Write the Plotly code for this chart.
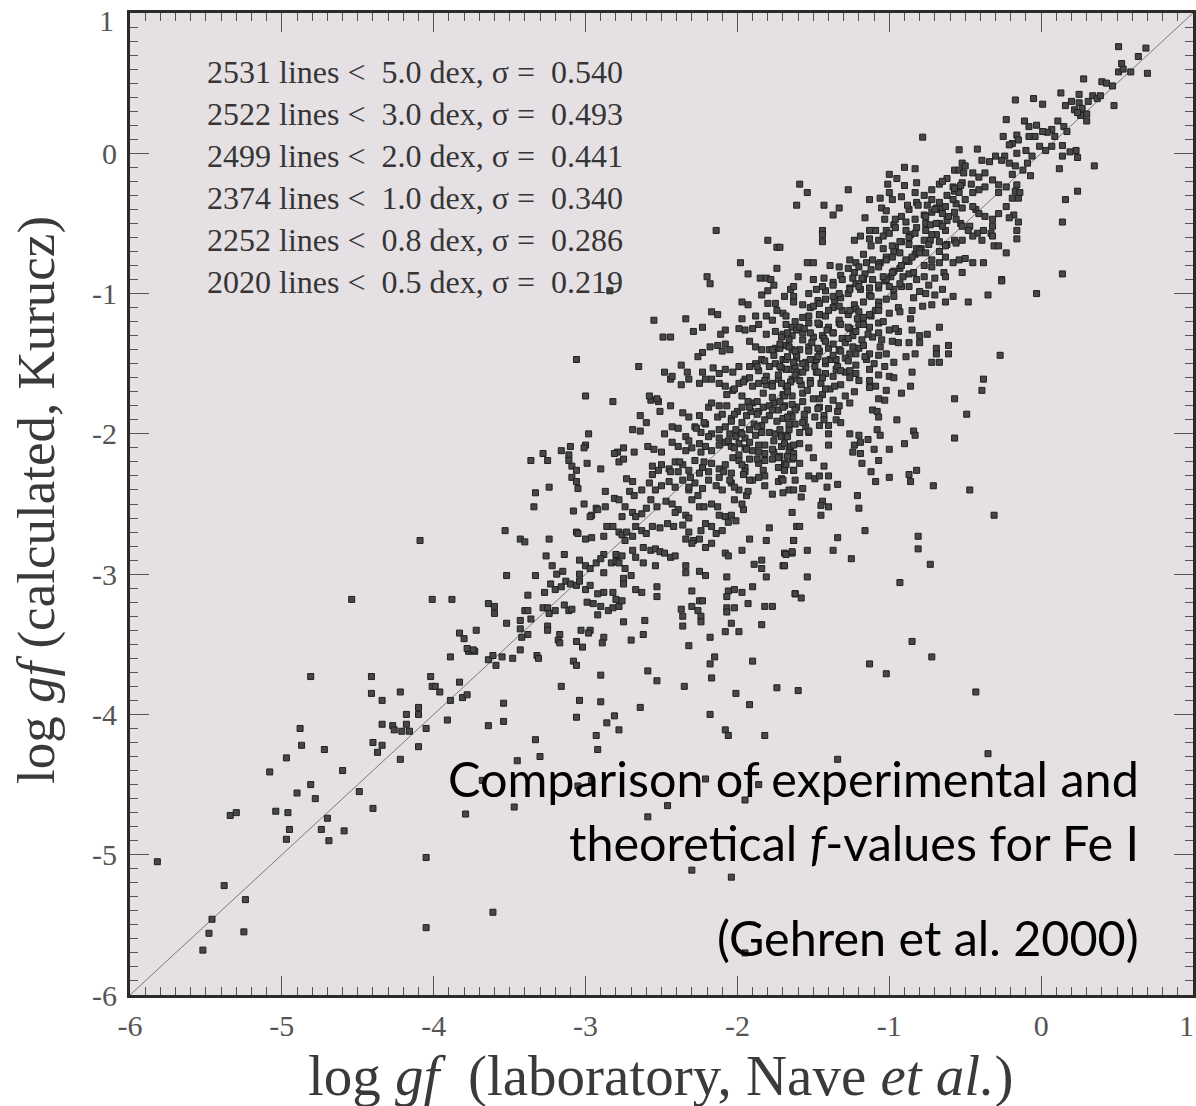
import plotly.graph_objects as go

# Fe I oscillator strengths: (laboratory log gf, calculated log gf)
low_tail = [
    (-4.81, -3.73), (-4.41, -3.73), (-4.41, -3.85), (-4.34, -3.90), (-4.22, -3.84), (-4.02, -3.73),
    (-4.01, -3.80), (-3.99, -3.80), (-3.96, -3.84), (-3.89, -3.59), (-3.83, -3.77), (-3.89, -3.90),
    (-3.81, -3.88), (-3.78, -3.86), (-3.77, -3.55), (-3.73, -3.55), (-3.64, -3.61), (-3.61, -3.58),
    (-3.59, -3.65), (-4.10, -3.95), (-4.10, -4.00), (-4.18, -4.00), (-4.34, -4.07), (-4.27, -4.08),
    (-4.26, -4.11), (-4.21, -4.12), (-4.18, -4.07), (-4.16, -4.12), (-4.05, -4.10), (-3.91, -4.04),
    (-3.64, -4.08), (-4.88, -4.10), (-4.87, -4.22), (-4.72, -4.25), (-4.40, -4.20), (-4.34, -4.22),
    (-4.37, -4.27), (-4.10, -4.23), (-4.22, -4.32), (-4.97, -4.31), (-5.08, -4.41), (-4.60, -4.40),
    (-3.68, -4.47), (-4.81, -4.50), (-4.90, -4.56), (-4.78, -4.60), (-4.49, -4.55), (-5.04, -4.69),
    (-4.96, -4.70), (-5.34, -4.72), (-5.30, -4.70), (-4.70, -4.74), (-4.40, -4.67), (-3.79, -4.71),
    (-4.95, -4.82), (-4.74, -4.82), (-4.59, -4.83), (-4.97, -4.89), (-4.69, -4.90), (-5.82, -5.05),
    (-4.05, -5.02), (-5.38, -5.22), (-5.24, -5.32), (-5.46, -5.46), (-5.48, -5.56), (-5.25, -5.55),
    (-5.52, -5.68), (-4.05, -5.52), (-3.61, -5.41),
    (-4.09, -2.76), (-4.54, -3.18), (-4.01, -3.18), (-3.88, -3.18), (-3.64, -3.21), (-3.60, -3.23),
    (-3.60, -3.28), (-3.72, -3.40), (-3.83, -3.42), (-3.80, -3.46), (-3.78, -3.53), (-3.74, -3.54),
]

band_lower = [
    (-2.82, -1.77), (-2.57, -1.76), (-2.52, -1.77), (-2.44, -1.80), (-2.36, -1.85), (-2.51, -1.84),
    (-2.32, -1.88), (-2.25, -1.87), (-2.19, -1.81), (-2.17, -1.78), (-2.13, -1.88), (-2.10, -1.86),
    (-2.07, -1.80), (-2.04, -1.89), (-2.00, -1.84), (-1.97, -1.81), (-1.94, -1.87), (-1.90, -1.78),
    (-1.86, -1.84), (-1.83, -1.81), (-1.79, -1.87), (-1.76, -1.78), (-1.73, -1.83), (-1.69, -1.80),
    (-1.65, -1.86), (-1.62, -1.81),
    (-2.64, -1.87), (-2.60, -1.92), (-2.43, -1.95), (-2.39, -1.96), (-2.48, -2.00), (-2.34, -2.02),
    (-2.28, -1.95), (-2.24, -1.99), (-2.21, -1.93), (-2.17, -2.00), (-2.19, -2.02), (-2.12, -1.97),
    (-2.08, -1.95), (-2.05, -2.00), (-2.01, -2.02), (-1.98, -1.99), (-1.95, -2.03), (-1.92, -1.97),
    (-1.88, -2.01), (-1.84, -1.94), (-1.79, -1.99), (-1.75, -2.00), (-1.71, -2.02), (-1.66, -1.97),
    (-1.62, -1.93), (-2.98, -2.00), (-2.69, -1.97), (-2.64, -1.98),
    (-3.10, -2.09), (-3.00, -2.08), (-3.01, -2.10), (-3.16, -2.12), (-3.28, -2.14), (-3.11, -2.15),
    (-2.79, -2.13), (-2.81, -2.14), (-2.68, -2.13), (-2.75, -2.10), (-2.59, -2.09), (-2.55, -2.11),
    (-2.50, -2.13), (-2.43, -2.06), (-2.39, -2.09), (-2.34, -2.12), (-2.30, -2.10), (-2.25, -2.07),
    (-2.21, -2.09), (-2.17, -2.12), (-2.12, -2.08), (-2.08, -2.06), (-2.04, -2.09), (-1.99, -2.07),
    (-1.95, -2.10), (-1.90, -2.12), (-1.86, -2.08), (-1.82, -2.14), (-1.76, -2.13), (-1.71, -2.09),
    (-1.66, -2.12), (-1.63, -2.14),
    (-3.36, -2.19), (-3.25, -2.19), (-3.11, -2.19), (-2.99, -2.21), (-3.09, -2.23), (-3.06, -2.26),
    (-2.90, -2.25), (-2.78, -2.20), (-2.75, -2.18), (-2.56, -2.23), (-2.50, -2.22), (-2.45, -2.25),
    (-2.41, -2.20), (-2.36, -2.22), (-2.32, -2.26), (-2.28, -2.19), (-2.23, -2.24), (-2.19, -2.27),
    (-2.17, -2.21), (-2.12, -2.25), (-2.08, -2.22), (-2.04, -2.28), (-1.99, -2.19), (-1.95, -2.24),
    (-1.92, -2.18), (-1.86, -2.21), (-1.82, -2.19), (-1.77, -2.18), (-1.73, -2.24), (-1.69, -2.21),
    (-1.64, -2.18), (-1.63, -2.26), (-2.56, -2.29), (-2.52, -2.26), (-2.44, -2.27), (-2.39, -2.27),
    (-2.25, -2.28), (-1.95, -2.27),
    (-3.09, -2.31), (-3.06, -2.34), (-3.05, -2.39), (-3.24, -2.38), (-3.33, -2.42), (-2.87, -2.41),
    (-2.73, -2.32), (-2.69, -2.34), (-2.71, -2.41), (-2.68, -2.44), (-2.63, -2.40), (-2.58, -2.35),
    (-2.54, -2.40), (-2.50, -2.37), (-2.45, -2.34), (-2.41, -2.38), (-2.36, -2.33), (-2.32, -2.40),
    (-2.28, -2.35), (-2.23, -2.39), (-2.19, -2.33), (-2.14, -2.37), (-2.10, -2.40), (-2.04, -2.35),
    (-1.99, -2.40), (-1.94, -2.44), (-1.90, -2.33), (-1.86, -2.31), (-1.82, -2.37), (-1.77, -2.43),
    (-1.73, -2.34), (-1.71, -2.32), (-1.66, -2.40), (-1.62, -2.33),
    (-3.34, -2.52), (-3.08, -2.55), (-3.01, -2.50), (-2.93, -2.53), (-2.87, -2.52), (-2.81, -2.46),
    (-2.78, -2.47), (-2.74, -2.52), (-2.69, -2.56), (-2.67, -2.59), (-2.63, -2.57), (-2.60, -2.53),
    (-2.57, -2.47), (-2.53, -2.52), (-2.47, -2.48), (-2.43, -2.50), (-2.39, -2.54), (-2.34, -2.58),
    (-2.30, -2.47), (-2.25, -2.52), (-2.17, -2.50), (-2.13, -2.52), (-2.08, -2.59), (-2.04, -2.58),
    (-2.01, -2.62), (-1.96, -2.54), (-2.96, -2.58), (-2.92, -2.54), (-2.97, -2.59), (-2.76, -2.59),
    (-3.53, -2.69), (-3.43, -2.75), (-3.40, -2.77), (-3.24, -2.75), (-3.06, -2.70), (-3.05, -2.71),
    (-3.00, -2.75), (-2.96, -2.74), (-2.88, -2.73), (-2.86, -2.66), (-2.82, -2.66), (-2.78, -2.70),
    (-2.76, -2.72), (-2.73, -2.70), (-2.69, -2.73), (-2.67, -2.66), (-2.63, -2.69), (-2.60, -2.71),
    (-2.56, -2.66), (-2.51, -2.67), (-2.46, -2.64), (-2.42, -2.66), (-2.36, -2.65), (-2.32, -2.70),
    (-2.29, -2.76), (-2.24, -2.69), (-2.21, -2.64), (-2.17, -2.66), (-2.14, -2.71), (-2.10, -2.69),
    (-2.06, -2.63), (-1.92, -2.75), (-1.79, -2.67), (-1.63, -2.76), (-1.61, -2.66),
    (-3.26, -2.87), (-3.14, -2.86), (-2.88, -2.86), (-2.80, -2.86), (-2.76, -2.87), (-2.74, -2.76),
    (-2.69, -2.83), (-2.67, -2.88), (-2.62, -2.81), (-2.62, -2.92), (-2.57, -2.83), (-2.54, -2.82),
    (-2.51, -2.84), (-2.48, -2.85), (-2.44, -2.88), (-2.41, -2.87), (-2.34, -2.75), (-2.30, -2.78),
    (-2.25, -2.75), (-2.21, -2.81), (-2.17, -2.78), (-2.08, -2.85), (-2.06, -2.87), (-1.97, -2.83),
    (-1.81, -2.76), (-1.69, -2.85), (-1.64, -2.85),
    (-3.52, -3.01), (-3.33, -3.01), (-3.22, -2.94), (-3.19, -3.00), (-3.15, -2.98), (-3.04, -2.90),
    (-3.04, -3.00), (-3.00, -2.94), (-2.97, -2.96), (-2.93, -2.92), (-2.90, -2.89), (-2.88, -2.99),
    (-2.83, -2.92), (-2.80, -2.91), (-2.78, -2.92), (-2.74, -2.96), (-2.70, -3.01), (-2.75, -3.03),
    (-2.54, -2.94), (-2.34, -2.94), (-2.34, -2.99), (-2.25, -2.98), (-2.21, -3.01), (-2.07, -3.02),
    (-1.89, -2.93), (-1.84, -2.90), (-1.84, -2.96), (-1.81, -3.02), (-1.70, -2.94),
    (-3.38, -3.15), (-3.27, -3.13), (-3.23, -3.07), (-3.20, -3.11), (-3.16, -3.09), (-3.13, -3.05),
    (-3.10, -3.07), (-3.06, -3.08), (-3.04, -3.05), (-3.00, -3.11), (-2.97, -3.08), (-2.92, -3.14),
    (-2.88, -3.13), (-2.82, -3.13), (-2.80, -3.18), (-2.75, -3.07), (-2.67, -3.11), (-2.63, -3.13),
    (-2.53, -3.09), (-2.53, -3.16), (-2.30, -3.12), (-2.06, -3.12), (-2.02, -3.11), (-1.97, -3.13),
    (-1.90, -3.09), (-1.62, -3.14), (-2.07, -3.16),
    (-3.40, -3.26), (-3.38, -3.26), (-3.36, -3.32), (-3.28, -3.24), (-3.25, -3.24), (-3.24, -3.28),
    (-3.20, -3.26), (-3.14, -3.22), (-3.11, -3.26), (-3.09, -3.25), (-2.99, -3.20), (-2.95, -3.21),
    (-2.92, -3.29), (-2.90, -3.23), (-2.85, -3.26), (-2.82, -3.24), (-2.78, -3.23), (-2.76, -3.19),
    (-2.37, -3.25), (-2.36, -3.30), (-2.30, -3.23), (-2.25, -3.19), (-2.23, -3.19), (-2.26, -3.26),
    (-2.07, -3.24), (-2.02, -3.24), (-2.07, -3.27), (-1.93, -3.21), (-1.82, -3.23), (-1.77, -3.23),
    (-3.52, -3.35), (-3.43, -3.39), (-3.43, -3.33), (-3.42, -3.45), (-3.38, -3.43), (-3.25, -3.37),
    (-3.25, -3.40), (-3.17, -3.43), (-3.18, -3.47), (-3.03, -3.40), (-2.97, -3.40), (-2.98, -3.42),
    (-2.88, -3.45), (-2.75, -3.34), (-2.70, -3.47), (-2.61, -3.33), (-2.62, -3.43), (-2.36, -3.37),
    (-2.24, -3.30), (-2.24, -3.34), (-2.18, -3.45), (-2.08, -3.41), (-2.04, -3.35), (-1.99, -3.41),
    (-1.84, -3.36),
    (-3.55, -3.59), (-3.48, -3.60), (-3.43, -3.54), (-3.32, -3.58), (-3.31, -3.60), (-3.17, -3.49),
    (-3.06, -3.48), (-3.02, -3.52), (-3.08, -3.62), (-3.06, -3.65), (-2.89, -3.49), (-2.32, -3.51),
    (-2.18, -3.64), (-2.15, -3.59), (-1.90, -3.62),
    (-3.16, -3.80), (-2.90, -3.72), (-2.59, -3.69), (-2.53, -3.76), (-2.35, -3.80), (-2.17, -3.74),
    (-2.01, -3.85), (-1.74, -3.81),
]

band_middle = [
    (-2.14, -0.55), (-1.80, -0.62), (-1.74, -0.67), (-1.72, -0.67), (-1.61, -0.37), (-1.98, -0.78),
    (-1.74, -0.82), (-1.93, -0.86), (-1.85, -0.89), (-1.81, -0.89), (-1.78, -0.90), (-1.76, -0.94),
    (-2.20, -0.88), (-2.18, -0.93), (-1.60, -0.88), (-1.65, -0.97), (-1.63, -0.95), (-1.80, -0.98),
    (-1.84, -1.01), (-1.69, -1.02), (-1.63, -1.02), (-1.63, -1.06), (-1.97, -1.06), (-1.93, -1.08),
    (-1.80, -1.07), (-1.75, -1.07), (-1.74, -1.12), (-1.70, -1.14), (-1.88, -1.16), (-1.81, -1.16),
    (-1.77, -1.19), (-1.68, -1.16), (-2.17, -1.13), (-2.13, -1.15), (-1.97, -1.18), (-2.34, -1.18),
    (-2.55, -1.19), (-2.23, -1.24), (-2.29, -1.27), (-2.08, -1.26), (-2.11, -1.29), (-1.99, -1.25),
    (-1.95, -1.26), (-1.90, -1.25), (-1.86, -1.22), (-1.81, -1.29), (-1.75, -1.27), (-1.70, -1.29),
    (-1.64, -1.24), (-1.61, -1.26), (-2.49, -1.31), (-2.44, -1.31), (-2.18, -1.38), (-2.13, -1.37),
    (-2.08, -1.36), (-1.92, -1.34), (-1.88, -1.38), (-1.84, -1.40), (-1.79, -1.40), (-1.75, -1.39),
    (-1.68, -1.37), (-1.64, -1.40), (-2.23, -1.42), (-2.10, -1.41), (-2.05, -1.40), (-2.37, -1.51),
    (-2.26, -1.45), (-2.33, -1.56), (-2.23, -1.56), (-2.16, -1.53), (-2.12, -1.57), (-2.08, -1.54),
    (-2.03, -1.56), (-1.99, -1.52), (-1.92, -1.52), (-1.88, -1.50), (-1.84, -1.47), (-1.79, -1.52),
    (-1.75, -1.50), (-1.70, -1.47), (-1.66, -1.54), (-1.62, -1.52), (-3.06, -1.47), (-2.65, -1.52),
    (-2.48, -1.56), (-2.44, -1.61), (-2.43, -1.59), (-2.32, -1.61), (-2.37, -1.65), (-2.25, -1.64),
    (-2.21, -1.61), (-2.17, -1.61), (-2.12, -1.64), (-2.08, -1.66), (-2.03, -1.69), (-1.99, -1.64),
    (-1.95, -1.61), (-1.90, -1.66), (-1.86, -1.64), (-1.81, -1.59), (-1.77, -1.64), (-1.73, -1.61),
    (-1.68, -1.66), (-1.64, -1.61), (-3.00, -1.73), (-2.58, -1.73), (-2.53, -1.75), (-2.84, -0.98),
    (-1.68, -1.22), (-1.59, -1.24), (-1.53, -1.21), (-1.46, -1.22), (-1.40, -1.24), (-1.33, -1.21),
    (-1.26, -1.25), (-1.20, -1.22), (-1.13, -1.24), (-1.07, -1.21), (-1.00, -1.26), (-0.94, -1.27),
    (-0.85, -1.26), (-0.80, -1.30), (-0.75, -1.29), (-0.67, -1.24), (-1.71, -1.31), (-1.64, -1.30),
    (-1.57, -1.28), (-1.50, -1.31), (-1.44, -1.30), (-1.37, -1.28), (-1.31, -1.32), (-1.24, -1.30),
    (-1.18, -1.33), (-1.11, -1.31), (-1.05, -1.33), (-0.98, -1.34), (-0.94, -1.35), (-0.87, -1.35),
    (-0.80, -1.35), (-0.69, -1.39), (-0.69, -1.43), (-0.61, -1.37), (-0.61, -1.43), (-0.72, -1.49),
    (-0.67, -1.49), (-0.27, -1.44), (-1.72, -1.39), (-1.66, -1.38), (-1.59, -1.40), (-1.53, -1.38),
    (-1.46, -1.41), (-1.40, -1.39), (-1.33, -1.40), (-1.26, -1.43), (-1.20, -1.39), (-1.13, -1.43),
    (-1.07, -1.44), (-1.02, -1.43), (-0.97, -1.49), (-0.89, -1.45), (-0.83, -1.43), (-1.68, -1.47),
    (-1.61, -1.46), (-1.55, -1.49), (-1.48, -1.47), (-1.42, -1.50), (-1.35, -1.47), (-1.29, -1.46),
    (-1.22, -1.51), (-1.15, -1.47), (-1.10, -1.50), (-1.03, -1.52), (-1.68, -1.54), (-1.61, -1.56),
    (-1.55, -1.53), (-1.48, -1.56), (-1.42, -1.57), (-1.35, -1.54), (-1.29, -1.56), (-1.22, -1.57),
    (-1.13, -1.54), (-1.07, -1.58), (-1.00, -1.59), (-0.97, -1.60), (-0.85, -1.56), (-0.86, -1.66),
    (-0.92, -1.71), (-1.71, -1.64), (-1.65, -1.63), (-1.58, -1.65), (-1.52, -1.62), (-1.45, -1.64),
    (-1.39, -1.68), (-1.32, -1.65), (-1.26, -1.60), (-1.20, -1.62), (-1.13, -1.67), (-1.09, -1.66),
    (-1.02, -1.69), (-1.70, -1.72), (-1.64, -1.73), (-1.57, -1.71), (-1.50, -1.75), (-1.44, -1.72),
    (-1.37, -1.76), (-1.29, -1.73), (-1.26, -1.78), (-1.07, -1.75), (-1.03, -1.76), (-1.11, -1.83),
    (-1.08, -1.84), (-1.07, -1.88), (-1.70, -1.81), (-1.61, -1.81), (-1.54, -1.83), (-1.46, -1.81),
    (-1.40, -1.82), (-1.34, -1.84), (-1.70, -1.89), (-1.64, -1.88), (-1.56, -1.90), (-1.49, -1.88),
    (-1.43, -1.87), (-1.35, -1.90), (-1.32, -1.92), (-1.55, -1.95), (-1.46, -1.94), (-1.40, -1.94),
    (-1.68, -2.01), (-1.59, -1.99), (-1.53, -1.99), (-1.40, -2.00), (-1.26, -2.00), (-1.20, -2.01),
    (-1.14, -2.04), (-1.08, -1.97), (-1.06, -2.01), (-1.23, -2.08), (-1.19, -2.06), (-1.10, -2.11),
    (-1.00, -2.11), (-0.95, -1.90), (-0.84, -1.98), (-0.83, -2.01), (-0.90, -2.07), (-0.57, -1.75),
    (-0.49, -1.86), (-0.57, -2.03), (-0.39, -1.69), (-0.38, -1.61), (-1.69, -2.07), (-1.65, -2.09),
    (-1.59, -2.07), (-1.53, -2.10), (-1.40, -2.08), (-1.72, -2.16), (-1.67, -2.16), (-1.63, -2.17),
    (-1.50, -2.17), (-1.24, -2.13), (-1.19, -2.14), (-1.07, -2.19), (-1.68, -2.22), (-1.59, -2.21),
    (-1.69, -2.26), (-1.63, -2.26), (-1.43, -2.23), (-1.18, -2.21), (-1.12, -2.27), (-1.09, -2.34),
    (-1.00, -2.31), (-0.87, -2.29), (-0.82, -2.26), (-0.86, -2.34), (-0.71, -2.37), (-0.47, -2.40),
    (-1.70, -2.33), (-1.53, -2.30), (-1.49, -2.32), (-1.46, -2.30), (-1.40, -2.30), (-1.34, -2.36),
    (-1.41, -2.38), (-1.63, -2.40), (-1.57, -2.39), (-1.58, -2.45), (-1.70, -2.42), (-1.44, -2.48),
    (-1.45, -2.51), (-1.21, -2.44), (-1.20, -2.53), (-1.40, -2.52), (-1.45, -2.58), (-1.64, -2.56),
    (-1.59, -2.66), (-1.16, -2.69), (-1.34, -2.74), (-0.81, -2.73), (-0.81, -2.82), (-0.31, -2.58),
    (-0.73, -2.93), (-1.63, -2.76), (-1.64, -2.84), (-1.68, -2.86), (-1.54, -2.83), (-1.37, -2.83),
    (-1.25, -2.89), (-1.69, -2.94), (-1.54, -3.02), (-0.93, -3.06), (-1.62, -3.14), (-1.58, -3.17),
]

# densest part of the band, between about -2.3 and -0.4 dex
band_core = [
    (-2.07, -1.72), (-2.04, -1.91), (-2.06, -2.05), (-2.03, -2.17), (-2.05, -2.33), (-2.02, -2.47),
    (-1.96, -1.63), (-1.93, -1.77), (-1.97, -1.92), (-1.94, -2.11), (-1.96, -2.29), (-1.93, -2.41),
    (-1.86, -1.55), (-1.83, -1.71), (-1.87, -1.86), (-1.84, -1.99), (-1.86, -2.13), (-1.83, -2.26),
    (-1.76, -1.44), (-1.73, -1.58), (-1.77, -1.74), (-1.74, -1.91), (-1.76, -2.05), (-1.73, -2.17),
    (-1.66, -1.33), (-1.63, -1.49), (-1.67, -1.66), (-1.64, -1.79), (-1.66, -1.93), (-1.63, -2.08),
    (-1.56, -1.25), (-1.53, -1.41), (-1.57, -1.56), (-1.54, -1.69), (-1.56, -1.86), (-1.53, -1.98),
    (-1.46, -1.15), (-1.43, -1.32), (-1.47, -1.45), (-1.44, -1.60), (-1.46, -1.75), (-1.43, -1.90),
    (-1.36, -1.05), (-1.33, -1.19), (-1.37, -1.36), (-1.34, -1.52), (-1.36, -1.66), (-1.33, -1.80),
    (-1.26, -0.96), (-1.23, -1.08), (-1.27, -1.24), (-1.24, -1.38), (-1.26, -1.55), (-1.23, -1.70),
    (-1.16, -0.86), (-1.13, -1.01), (-1.17, -1.17), (-1.14, -1.29), (-1.16, -1.45), (-1.13, -1.62),
    (-1.06, -0.78), (-1.03, -0.91), (-1.07, -1.06), (-1.04, -1.20), (-1.06, -1.38),
    (-0.96, -0.67), (-0.93, -0.82), (-0.97, -0.97), (-0.94, -1.10), (-0.96, -1.25),
    (-0.86, -0.58), (-0.83, -0.72), (-0.87, -0.86), (-0.84, -1.03), (-0.86, -1.18),
    (-0.76, -0.50), (-0.73, -0.62), (-0.77, -0.80), (-0.74, -0.94),
    (-0.66, -0.40), (-0.63, -0.55), (-0.67, -0.70), (-0.64, -0.85),
    (-0.56, -0.36), (-0.53, -0.50), (-0.57, -0.62), (-0.46, -0.22), (-0.43, -0.40), (-0.47, -0.52),
    (-2.27, -1.96), (-2.24, -2.13), (-2.31, -2.31), (-2.26, -2.44), (-2.38, -2.20), (-2.41, -2.56),
    (-1.31, -1.12), (-1.19, -0.97), (-1.41, -1.26), (-1.51, -1.35), (-1.61, -1.44), (-1.71, -1.53),
    (-1.81, -1.65), (-1.91, -1.84), (-2.01, -1.97), (-1.49, -1.52), (-1.39, -1.47), (-1.29, -1.35),
    (-1.09, -1.12), (-0.99, -0.88), (-0.89, -0.77), (-0.79, -0.68), (-0.69, -0.58), (-1.59, -1.62),
    (-1.69, -1.73), (-1.79, -1.80), (-1.89, -1.93), (-1.99, -2.15), (-2.09, -2.27), (-1.21, -1.18),
    (-2.32, -2.05), (-2.32, -2.38), (-2.32, -2.60), (-2.22, -1.92), (-2.22, -2.20), (-2.22, -2.52),
    (-2.12, -1.80), (-2.12, -2.03), (-2.12, -2.31), (-2.12, -2.58), (-2.02, -1.68), (-2.02, -1.86),
    (-2.02, -2.10), (-2.02, -2.38), (-1.97, -1.73), (-1.97, -2.00), (-1.97, -2.22), (-1.97, -2.50),
    (-1.92, -1.60), (-1.92, -1.81), (-1.92, -2.06), (-1.92, -2.33), (-1.87, -1.52), (-1.87, -1.77),
    (-1.87, -1.95), (-1.87, -2.18), (-1.82, -1.48), (-1.82, -1.62), (-1.82, -1.90), (-1.82, -2.08),
    (-1.82, -2.30), (-1.77, -1.40), (-1.77, -1.66), (-1.77, -1.83), (-1.77, -2.11), (-1.72, -1.36),
    (-1.72, -1.52), (-1.72, -1.77), (-1.72, -1.97), (-1.67, -1.28), (-1.67, -1.45), (-1.67, -1.70),
    (-1.67, -1.88), (-1.67, -2.02), (-1.62, -1.20), (-1.62, -1.41), (-1.62, -1.58), (-1.62, -1.83),
    (-1.57, -1.17), (-1.57, -1.33), (-1.57, -1.50), (-1.57, -1.77), (-1.57, -1.92), (-1.52, -1.10),
    (-1.52, -1.28), (-1.52, -1.47), (-1.52, -1.64), (-1.47, -1.05), (-1.47, -1.21), (-1.47, -1.39),
    (-1.47, -1.56), (-1.47, -1.82), (-1.42, -0.98), (-1.42, -1.16), (-1.42, -1.34), (-1.42, -1.48),
    (-1.42, -1.68), (-1.37, -0.92), (-1.37, -1.10), (-1.37, -1.28), (-1.37, -1.44), (-1.37, -1.59),
    (-1.32, -0.87), (-1.32, -1.03), (-1.32, -1.22), (-1.32, -1.41), (-1.32, -1.55), (-1.27, -0.82),
    (-1.27, -1.00), (-1.27, -1.15), (-1.27, -1.32), (-1.27, -1.48), (-1.22, -0.78), (-1.22, -0.93),
    (-1.22, -1.11), (-1.22, -1.27), (-1.22, -1.43), (-1.17, -0.72), (-1.17, -0.90), (-1.17, -1.06),
    (-1.17, -1.22), (-1.17, -1.37), (-1.12, -0.66), (-1.12, -0.83), (-1.12, -1.02), (-1.12, -1.16),
    (-1.07, -0.62), (-1.07, -0.79), (-1.07, -0.96), (-1.07, -1.09), (-1.07, -1.28), (-1.02, -0.55),
    (-1.02, -0.74), (-1.02, -0.90), (-1.02, -1.04), (-0.97, -0.51), (-0.97, -0.70), (-0.97, -0.84),
    (-0.97, -1.02), (-0.92, -0.45), (-0.92, -0.63), (-0.92, -0.80), (-0.92, -0.95), (-0.87, -0.40),
    (-0.87, -0.60), (-0.87, -0.77), (-0.82, -0.35), (-0.82, -0.53), (-0.82, -0.68), (-0.82, -0.90),
    (-0.77, -0.30), (-0.77, -0.44), (-0.77, -0.62), (-0.72, -0.26), (-0.72, -0.42), (-0.72, -0.58),
    (-0.72, -0.81), (-0.67, -0.22), (-0.67, -0.35), (-0.67, -0.50), (-0.62, -0.18), (-0.62, -0.30),
    (-0.62, -0.48), (-0.62, -0.65), (-0.57, -0.12), (-0.57, -0.27), (-0.57, -0.42), (-0.52, -0.07),
    (-0.52, -0.21), (-0.52, -0.39),
]

band_upper = [
    (0.51, 0.76), (0.69, 0.75), (0.64, 0.69), (0.53, 0.64), (0.51, 0.58), (0.54, 0.60), (0.59, 0.58),
    (0.70, 0.57), (0.28, 0.53), (0.40, 0.51), (0.43, 0.50), (0.47, 0.48), (0.48, 0.34), (0.13, 0.43),
    (0.25, 0.42), (0.34, 0.41), (0.37, 0.39), (0.39, 0.41), (-0.17, 0.38), (-0.05, 0.39), (0.01, 0.35),
    (0.16, 0.34), (0.20, 0.37), (0.25, 0.36), (0.27, 0.32), (0.22, 0.31), (0.30, 0.28), (0.26, 0.27),
    (0.24, 0.29), (0.30, 0.23), (0.31, 0.37), (-0.23, 0.24), (-0.11, 0.23), (-0.08, 0.19), (-0.03, 0.20),
    (0.11, 0.23), (0.15, 0.19), (0.17, 0.155), (0.07, 0.17), (0.04, 0.15), (0.01, 0.155), (-0.04, 0.12),
    (-0.08, 0.12), (-0.16, 0.13), (-0.15, 0.095), (-0.19, 0.07), (-0.21, 0.06), (-0.25, 0.12),
    (-0.78, 0.115), (-0.54, 0.025), (-0.42, 0.03), (-0.24, -0.02), (-0.16, 0.00), (-0.10, 0.02),
    (-0.06, -0.02), (-0.01, 0.05), (0.03, 0.02), (0.07, 0.05), (0.09, 0.12), (0.14, 0.055), (0.23, 0.02),
    (0.24, -0.03), (0.19, 0.01), (0.14, -0.02), (0.12, -0.11), (0.35, -0.09), (-0.07, -0.16),
    (-0.09, -0.07), (-0.12, -0.12), (-0.17, -0.09), (-0.21, -0.07), (-0.26, -0.05), (-0.30, -0.02),
    (-0.34, -0.06), (-0.39, -0.05), (-0.50, -0.09), (-0.54, -0.12), (-0.51, -0.14), (-0.45, -0.14),
    (-0.41, -0.17), (-0.37, -0.14), (-0.32, -0.19), (-0.28, -0.225), (-0.23, -0.24), (-0.17, -0.27),
    (-0.15, -0.32), (-0.19, -0.32), (-0.28, -0.28), (-0.37, -0.24), (-0.41, -0.26), (-0.45, -0.28),
    (-0.50, -0.33), (-0.45, -0.38), (-0.41, -0.43), (-0.37, -0.45), (-0.32, -0.47), (-0.28, -0.43),
    (-0.23, -0.38), (-0.18, -0.44), (-0.15, -0.49), (-0.21, -0.46), (-0.32, -0.52), (-0.38, -0.55),
    (-0.33, -0.57), (-0.42, -0.57), (-0.48, -0.55), (-0.52, -0.52), (-0.56, -0.47), (-0.61, -0.45),
    (-0.65, -0.43), (-0.69, -0.39), (-0.72, -0.33), (-0.63, -0.38), (-0.58, -0.33), (-0.54, -0.28),
    (-0.58, -0.24), (-0.65, -0.20), (-0.57, -0.25), (-0.53, -0.23), (-1.00, -0.15), (-0.95, -0.18),
    (-0.90, -0.10), (-0.83, -0.11), (-1.01, -0.22), (-0.82, -0.21), (-0.90, -0.23), (-0.83, -0.28),
    (-1.00, -0.28), (-1.27, -0.26), (-1.54, -0.28), (-1.59, -0.22), (-1.13, -0.33), (-1.06, -0.32),
    (-0.98, -0.33), (-0.92, -0.31), (-0.88, -0.37), (-0.81, -0.37), (-0.75, -0.37), (-0.70, -0.40),
    (-1.05, -0.39), (-1.02, -0.41), (-1.37, -0.44), (-1.43, -0.37), (-1.33, -0.39), (-1.16, -0.46),
    (-1.03, -0.47), (-0.96, -0.47), (-0.89, -0.49), (-0.83, -0.47), (-0.76, -0.45), (-0.73, -0.51),
    (-0.69, -0.50), (-0.65, -0.52), (-0.76, -0.55), (-0.83, -0.57), (-0.89, -0.55), (-0.96, -0.53),
    (-1.00, -0.57), (-1.04, -0.59), (-1.09, -0.55), (-1.13, -0.55), (-1.19, -0.59), (-1.23, -0.62),
    (-1.44, -0.55), (-1.44, -0.58), (-1.44, -0.63), (-1.13, -0.61), (-1.04, -0.68), (-0.98, -0.66),
    (-0.93, -0.63), (-0.87, -0.65), (-0.80, -0.69), (-0.74, -0.65), (-0.67, -0.63), (-0.63, -0.66),
    (-0.56, -0.64), (-0.52, -0.62), (-0.45, -0.59), (-0.39, -0.62), (-0.32, -0.59), (-0.31, -0.66),
    (-0.28, -0.66), (-0.16, -0.55), (-0.16, -0.61), (-1.39, -0.80), (-1.33, -0.81), (-1.26, -0.76),
    (-1.54, -0.78), (-1.50, -0.78), (-1.50, -0.90), (-1.43, -0.89), (-1.23, -0.85), (-1.20, -0.81),
    (-1.15, -0.78), (-1.11, -0.76), (-1.07, -0.81), (-1.02, -0.76), (-0.98, -0.74), (-0.93, -0.71),
    (-0.89, -0.76), (-0.85, -0.74), (-0.80, -0.71), (-0.76, -0.71), (-0.72, -0.76), (-0.67, -0.78),
    (-0.63, -0.74), (-0.58, -0.78), (-0.54, -0.76), (-0.50, -0.75), (-0.45, -0.78), (-0.38, -0.78),
    (-0.52, -0.85), (-0.63, -0.88), (-0.70, -0.89), (-0.77, -0.88), (-0.84, -0.85), (-0.91, -0.88),
    (-0.98, -0.85), (-1.04, -0.88), (-1.11, -0.90), (-1.18, -0.89), (-1.24, -0.89), (-1.31, -0.90),
    (-1.37, -0.94), (-1.44, -0.95), (-1.48, -0.97), (-1.53, -1.00), (-1.57, -1.08), (-1.50, -1.09),
    (-1.46, -1.07), (-1.42, -1.04), (-1.37, -1.02), (-1.33, -1.00), (-1.26, -0.97), (-1.20, -0.95),
    (-1.13, -0.96), (-1.07, -0.94), (-1.00, -0.95), (-0.93, -0.93), (-0.87, -0.95), (-0.80, -0.985),
    (-0.76, -1.00), (-0.70, -1.01), (-0.65, -0.97), (-0.58, -1.02), (-0.63, -1.06), (-0.72, -1.08),
    (-0.78, -1.09), (-0.85, -1.12), (-0.93, -1.13), (-1.00, -1.14), (-1.07, -1.12), (-1.13, -1.15),
    (-1.20, -1.13), (-1.26, -1.12), (-1.33, -1.09), (-1.40, -1.12), (-1.46, -1.15), (-1.53, -1.16),
    (-0.48, -1.06), (-0.35, -1.01), (-0.26, -0.90), (-0.03, -1.00), (0.14, -0.86), (0.14, -0.49),
    (0.16, -0.33), (0.24, -0.27), (-0.16, -0.225), (-0.14, -0.28), (-0.19, -0.15), (-0.23, -0.71),
    (-0.26, -0.91),
]

scattered_below = [
    (-1.60, -3.83), (-3.54, -3.92), (-3.54, -4.05), (-3.04, -3.90), (-2.90, -3.91), (-3.06, -4.02),
    (-2.81, -4.01), (-2.86, -4.06), (-2.78, -4.11), (-2.64, -3.95), (-2.18, -4.00), (-1.92, -3.93),
    (-2.08, -4.11), (-2.06, -4.15), (-1.82, -4.15), (-2.93, -4.15), (-3.33, -4.18), (-2.92, -4.25),
    (-3.45, -4.33), (-3.30, -4.30), (-1.34, -4.32), (-2.96, -4.47), (-3.05, -4.51), (-2.21, -4.46),
    (-1.86, -4.50), (-1.95, -4.61), (-3.47, -4.66), (-2.46, -4.65), (-2.59, -4.73), (-2.30, -5.11),
    (-2.04, -5.16), (-1.95, -5.70),
    (-0.85, -3.48), (-0.72, -3.59), (-1.13, -3.64), (-1.02, -3.71), (-0.43, -3.84), (-0.35, -4.28),
]

# one-to-one reference line
diag_x = [-6, 1]
diag_y = [-6, 1]

# the labels at the upper end of both axes are placed separately so they stay inside the page
tick_vals = [-6, -5, -4, -3, -2, -1, 0, 1]
tick_text = ["-6", "-5", "-4", "-3", "-2", "-1", "0", ""]
end_label = "1"

stats_lines = [
    "2531 lines <\u00a0\u00a05.0 dex, σ =\u00a0\u00a00.540",
    "2522 lines <\u00a0\u00a03.0 dex, σ =\u00a0\u00a00.493",
    "2499 lines <\u00a0\u00a02.0 dex, σ =\u00a0\u00a00.441",
    "2374 lines <\u00a0\u00a01.0 dex, σ =\u00a0\u00a00.340",
    "2252 lines <\u00a0\u00a00.8 dex, σ =\u00a0\u00a00.286",
    "2020 lines <\u00a0\u00a00.5 dex, σ =\u00a0\u00a00.219",
]
stats_y = [0.940, 0.897, 0.854, 0.812, 0.769, 0.726]

all_points = low_tail + band_lower + band_middle + band_core + band_upper + scattered_below
lab_gf = [p[0] for p in all_points]
calc_gf = [p[1] for p in all_points]

SERIF = "Liberation Serif, Times New Roman, serif"
SANS = "Lato, Carlito, Calibri, sans-serif"
TICK_FONT = dict(family=SERIF, size=30, color="#555555")

fig = go.Figure()
fig.add_trace(go.Scatter(
    x=diag_x, y=diag_y, mode="lines",
    line=dict(color="#7a7a7a", width=1), hoverinfo="skip", showlegend=False,
))
fig.add_trace(go.Scatter(
    x=lab_gf, y=calc_gf, mode="markers",
    marker=dict(symbol="square", size=6, color="#474747",
                line=dict(color="#202020", width=1)),
    showlegend=False,
))

axis_common = dict(
    range=[-6, 1], tickmode="array", tickvals=tick_vals, ticktext=tick_text,
    ticks="inside", ticklen=19, tickwidth=1, tickcolor="#555555",
    minor=dict(ticks="inside", ticklen=8, tickwidth=1, tickcolor="#555555",
               dtick=0.1, tick0=-6, showgrid=False),
    showline=True, linecolor="#2b2b2b", linewidth=3, mirror="allticks",
    showgrid=False, zeroline=False, ticklabeloverflow="allow", automargin=False,
    tickfont=TICK_FONT,
)

fig.update_xaxes(**axis_common, ticklabelstandoff=2)
fig.update_yaxes(**axis_common, ticklabelstandoff=4)

annotations = []
for txt, yy in zip(stats_lines, stats_y):
    annotations.append(dict(
        text=txt, xref="paper", yref="paper", x=0.0706, y=yy,
        xanchor="left", yanchor="middle", showarrow=False,
        font=dict(family=SERIF, size=32, color="#353535"),
    ))

big_lines = [
    ("Comparison of experimental and", 0.221),
    ("theoretical <i>f</i>-values for Fe I", 0.156),
    ("(Gehren et al. 2000)", 0.059),
]
for txt, yy in big_lines:
    annotations.append(dict(
        text=txt, xref="paper", yref="paper", x=0.951, y=yy,
        xanchor="right", yanchor="middle", showarrow=False,
        font=dict(family=SANS, size=48.5, color="#000000"),
    ))

# end labels of the two axes
annotations.append(dict(
    text=end_label, xref="paper", yref="paper", x=-0.013, y=1.0,
    xanchor="right", yanchor="top", yshift=11, showarrow=False, font=TICK_FONT,
))
annotations.append(dict(
    text=end_label, xref="paper", yref="paper", x=1.0028, y=-0.0045,
    xanchor="right", yanchor="top", yshift=-8, showarrow=False, font=TICK_FONT,
))

annotations.append(dict(
    text="log <i>gf</i>\u00a0 (laboratory, Nave <i>et al.</i>)",
    xref="paper", yref="paper", x=0.4986, y=-0.0820,
    xanchor="center", yanchor="middle", showarrow=False,
    font=dict(family=SERIF, size=57, color="#3a3a3a"),
))
annotations.append(dict(
    text="log <i>gf</i> (calculated, Kurucz)",
    xref="paper", yref="paper", x=-0.0885, y=0.504,
    xanchor="center", yanchor="middle", textangle=-90, showarrow=False,
    font=dict(family=SERIF, size=53, color="#3a3a3a"),
))

fig.update_layout(
    width=1196, height=1106,
    margin=dict(l=130, r=3, t=13, b=111, autoexpand=False),
    paper_bgcolor="white", plot_bgcolor="#e4e0e4",
    annotations=annotations,
    showlegend=False,
)

fig.write_html("out.html")
